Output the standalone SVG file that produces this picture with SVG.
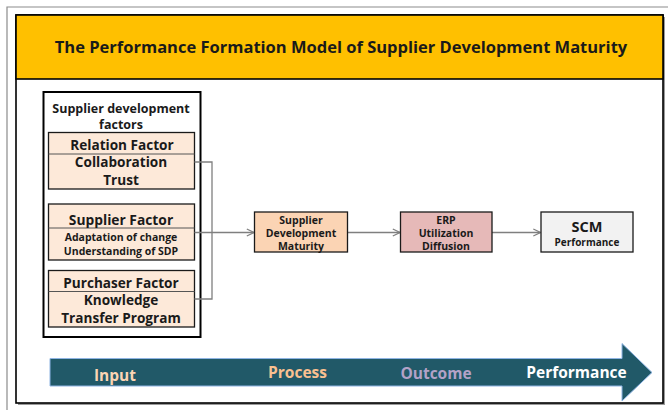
<svg xmlns="http://www.w3.org/2000/svg" width="668" height="410" viewBox="0 0 668 410">
<style>
text{font-family:"Open Sans","Noto Sans","Liberation Sans",sans-serif;font-weight:bold;text-anchor:middle;fill:#1a1a1a}
.fbox{fill:#FDE9D9;stroke:#1a1a1a;stroke-width:1.3}
.div{stroke:#555;stroke-width:1}
.con{fill:none;stroke:#7F7F7F;stroke-width:1.3}
.node{stroke:#1a1a1a;stroke-width:1.3}
</style>
<defs>
<marker id="ah" viewBox="0 0 10 10" refX="9" refY="5" markerWidth="9" markerHeight="9" markerUnits="userSpaceOnUse" orient="auto">
<path d="M1,1 L9,5 L1,9" fill="none" stroke="#7F7F7F" stroke-width="1.3"/>
</marker>
</defs>
<rect width="668" height="410" fill="#ffffff"/>
<path d="M7,410 V7 H668" fill="none" stroke="#8c8c8c" stroke-width="1.2"/>
<rect x="18" y="17" width="647" height="388" fill="#9a9a9a"/>
<rect x="16" y="15" width="647" height="388" fill="#ffffff" stroke="#000" stroke-width="1.6"/>
<g id="title">
<rect x="16" y="15" width="647" height="64" fill="#FFC000" stroke="#000" stroke-width="1.6"/>
<text x="341" y="53" font-size="16.5">The Performance Formation Model of Supplier Development Maturity</text>
</g>
<g id="factors">
<rect x="43.5" y="92" width="157" height="245" fill="#fff" stroke="#000" stroke-width="2"/>
<text x="121" y="113" font-size="12.5">Supplier development</text>
<text x="121" y="129" font-size="12.5">factors</text>
</g>
<g id="relation">
<rect class="fbox" x="48.5" y="132.5" width="146" height="56.5"/>
<line class="div" x1="48.5" y1="154" x2="194.5" y2="154"/>
<text x="122" y="149.5" font-size="13.6">Relation Factor</text>
<text x="121" y="167" font-size="13.6">Collaboration</text>
<text x="121" y="184.5" font-size="13.6">Trust</text>
</g>
<g id="supplier">
<rect class="fbox" x="48.5" y="204" width="146" height="56"/>
<line class="div" x1="48.5" y1="228" x2="194.5" y2="228"/>
<text x="121" y="225" font-size="13.8">Supplier Factor</text>
<text x="121" y="241" font-size="10.5">Adaptation of change</text>
<text x="121" y="255" font-size="10.5">Understanding of SDP</text>
</g>
<g id="purchaser">
<rect class="fbox" x="48.5" y="270.5" width="146" height="56.5"/>
<line class="div" x1="48.5" y1="291.5" x2="194.5" y2="291.5"/>
<text x="121" y="287.5" font-size="13.6">Purchaser Factor</text>
<text x="121" y="305" font-size="13.6">Knowledge</text>
<text x="121" y="322.5" font-size="13.6">Transfer Program</text>
</g>
<g id="connectors">
<path class="con" d="M194.5,162 H212 V299 H194.5"/>
<path class="con" d="M194.5,232.5 H254" marker-end="url(#ah)"/>
<path class="con" d="M347.5,232.5 H400" marker-end="url(#ah)"/>
<path class="con" d="M492,232.5 H540.5" marker-end="url(#ah)"/>
</g>
<g id="sdm">
<rect class="node" x="254.5" y="212" width="93" height="40" fill="#FBD4B4"/>
<text x="301" y="223.5" font-size="10.5">Supplier</text>
<text x="301" y="236.5" font-size="10.5">Development</text>
<text x="301" y="249.5" font-size="10.5">Maturity</text>
</g>
<g id="erp">
<rect class="node" x="400.5" y="212" width="91.5" height="40" fill="#E6B9B8"/>
<text x="446" y="223.5" font-size="10.5">ERP</text>
<text x="446" y="236.5" font-size="10.5">Utilization</text>
<text x="446" y="249.5" font-size="10.5">Diffusion</text>
</g>
<g id="scm">
<rect class="node" x="541" y="212" width="92" height="40" fill="#F2F2F2"/>
<text x="587" y="232" font-size="14.5">SCM</text>
<text x="587" y="245.5" font-size="10">Performance</text>
</g>
<g id="stages">
<polygon points="50,358.5 622,358.5 622,343.5 652,372.5 622,401 622,386 50,386" fill="#215968" stroke="#8EB4E3" stroke-width="1"/>
<text x="115" y="381" font-size="15.5" style="fill:#FCD5B4">Input</text>
<text x="297.5" y="378" font-size="15.5" style="fill:#FAC090">Process</text>
<text x="436" y="379" font-size="15.5" style="fill:#B3A2C7">Outcome</text>
<text x="576.5" y="378" font-size="15.5" style="fill:#FFFFFF">Performance</text>
</g>
</svg>
